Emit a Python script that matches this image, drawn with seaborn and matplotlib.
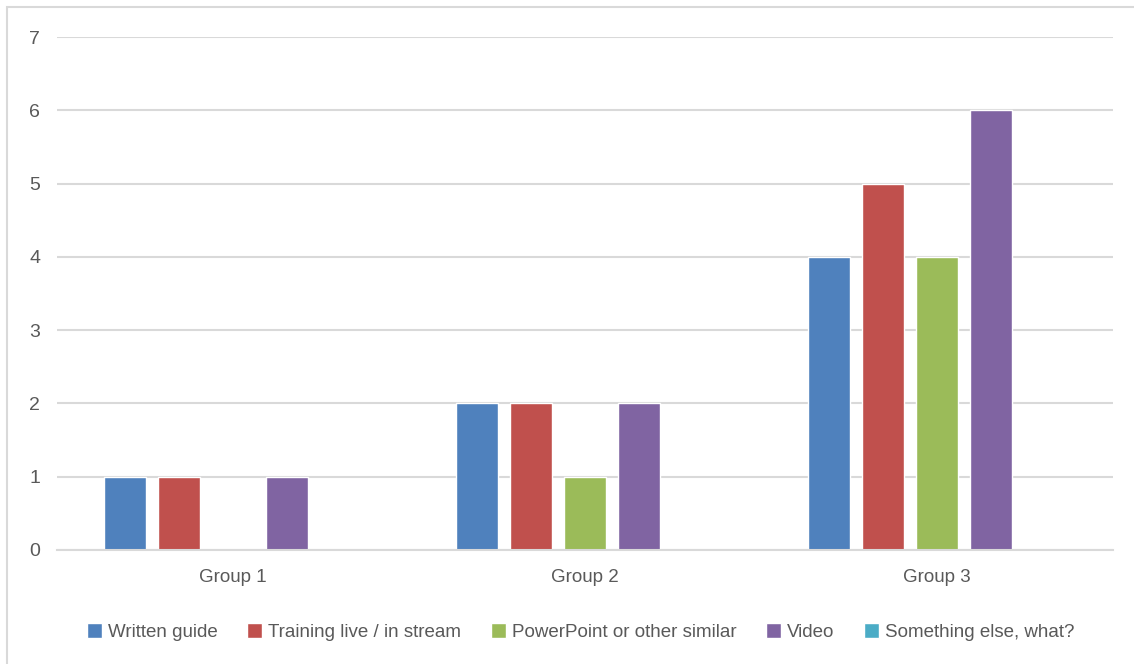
import matplotlib
matplotlib.use("Agg")
import matplotlib.pyplot as plt
from matplotlib.patches import Rectangle
import pandas as pd
import seaborn as sns

groups = ["Group 1", "Group 2", "Group 3"]
series = ["Written guide", "Training live / in stream", "PowerPoint or other similar",
          "Video", "Something else, what?"]
written_guide = [1, 2, 4]
training_live = [1, 2, 5]
powerpoint = [0, 1, 4]
video = [1, 2, 6]
something_else = [0, 0, 0]
colors = ["#4F81BD", "#C0504D", "#9BBB59", "#8064A2", "#4BACC6"]

values = [written_guide, training_live, powerpoint, video, something_else]
rows = []
for name, vals in zip(series, values):
    for g, v in zip(groups, vals):
        rows.append({"group": g, "series": name, "count": v})
df = pd.DataFrame(rows)

sns.set_theme(style="white")
plt.rcParams["font.family"] = ["Liberation Sans", "DejaVu Sans"]
text_color = "#595959"
grid_color = "#D9D9D9"

fig = plt.figure(figsize=(11.34, 6.64), dpi=100)
ax = fig.add_axes([57 / 1134, 1 - 550 / 664, 1056 / 1134, 513 / 664])

sns.barplot(data=df, x="group", y="count", hue="series", hue_order=series,
            order=groups, palette=colors, width=0.767, gap=0.22,
            saturation=1, ax=ax, errorbar=None)

ax.set_ylim(0, 7)
ax.set_xlim(-0.5, 2.5)
ax.set_yticks(range(0, 8))
ax.yaxis.grid(True, color=grid_color, linewidth=1.5)
ax.set_axisbelow(True)
for side in ["top", "right", "left"]:
    ax.spines[side].set_visible(False)
ax.spines["bottom"].set_color(grid_color)
ax.spines["bottom"].set_linewidth(1.5)
ax.set_xlabel("")
ax.set_ylabel("")
ax.tick_params(axis="y", length=0, pad=12, labelsize=14, labelcolor=text_color)
ax.tick_params(axis="x", length=0, pad=14, labelsize=13.5, labelcolor=text_color)

handles, labels = ax.get_legend_handles_labels()
ax.get_legend().remove()
fig.legend(handles, labels, loc="center", bbox_to_anchor=(0.512, 1 - 632 / 664),
           ncol=5, frameon=False, fontsize=13.5, labelcolor=text_color,
           handlelength=0.8, handleheight=0.8, handletextpad=0.3,
           columnspacing=1.6)

fig.patches.append(Rectangle((7 / 1134, -0.2), 1.5, 1.2 - 7 / 664,
                             transform=fig.transFigure, fill=False,
                             edgecolor=grid_color, linewidth=1.5))

fig.savefig("out.png", dpi=100)
